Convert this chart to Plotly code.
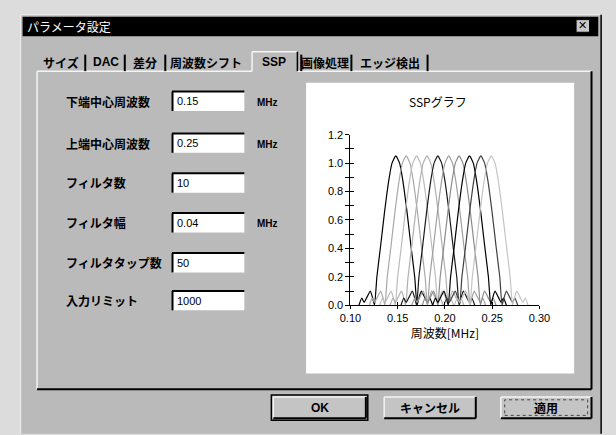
import plotly.graph_objects as go

# ---------------- data ----------------
filter_centers = [0.148, 0.159, 0.170, 0.181, 0.1925, 0.204, 0.215, 0.226, 0.238, 0.249]
filter_colors = ["#000000", "#a8a8a8", "#bcbcbc", "#b0b0b0", "#1a1a1a",
                 "#a0a0a0", "#8c8c8c", "#000000", "#404040", "#c4c4c4"]
# magnitude response shape of one filter (offset from centre in MHz, gain)
profile_offset = [-0.039, -0.036, -0.0335, -0.031, -0.027, -0.0245, -0.0225, -0.020, -0.016,
                  -0.012, -0.0075, -0.004, 0.0, 0.004, 0.0075, 0.012, 0.016, 0.020, 0.0225,
                  0.0245, 0.027, 0.031, 0.0335, 0.036, 0.039]
profile_gain = [0.00, 0.05, 0.02, 0.05, 0.10, 0.05, 0.00, 0.20, 0.42,
                0.65, 0.875, 1.00, 1.05, 1.00, 0.875, 0.65, 0.42, 0.20, 0.00,
                0.05, 0.10, 0.05, 0.02, 0.05, 0.00]
y_ticks = [0.0, 0.2, 0.4, 0.6, 0.8, 1.0, 1.2]
x_ticks = [0.10, 0.15, 0.20, 0.25, 0.30]

tab_labels = ["サイズ", "DAC", "差分", "周波数シフト", "SSP", "画像処理", "エッジ検出"]
param_labels = ["下端中心周波数", "上端中心周波数", "フィルタ数", "フィルタ幅", "フィルタタップ数", "入力リミット"]
param_values = ["0.15", "0.25", "10", "0.04", "50", "1000"]
param_units = ["MHz", "MHz", "", "MHz", "", ""]
button_labels = ["OK", "キャンセル", "適用"]

W, H = 616, 435
def X(px): return px / W
def Y(py): return 1 - py / H

JP = "Noto Sans CJK JP"
SANS = "Liberation Sans"

fig = go.Figure()
for c, col in zip(filter_centers, filter_colors):
    fig.add_trace(go.Scatter(
        x=[c + o for o in profile_offset], y=profile_gain, mode="lines",
        line=dict(color=col, width=1.2, shape="spline", smoothing=0.5),
        showlegend=False, hoverinfo="skip"))
# invisible trace for overlay axes (crossing ticks)
fig.add_trace(go.Scatter(x=[0.1], y=[0], xaxis="x2", yaxis="y2", mode="markers",
                         marker=dict(opacity=0), showlegend=False, hoverinfo="skip"))

xdom = [X(352), X(548)]
ydom = [Y(307.7), Y(132.3)]
axfont = dict(family=SANS, size=11, color="#000")
fig.update_layout(
    width=W, height=H, margin=dict(l=0, r=0, t=0, b=0),
    paper_bgcolor="#dcdcdc", plot_bgcolor="rgba(0,0,0,0)",
    xaxis=dict(domain=xdom, range=[0.10, 0.30], tickvals=x_ticks, tickformat=".2f",
               showgrid=False, zeroline=False, showline=True, linecolor="#000", linewidth=1,
               ticks="outside", ticklen=3, tickcolor="#000", tickfont=axfont,
               title=dict(text="周波数[MHz]", font=dict(family=JP, size=12, color="#000"), standoff=4),
               anchor="y"),
    yaxis=dict(domain=ydom, range=[0, 1.2], tickvals=y_ticks, tickformat=".1f",
               showgrid=False, zeroline=False, showline=True, linecolor="#000", linewidth=1,
               ticks="outside", ticklen=4, tickcolor="#000", tickfont=axfont,
               minor=dict(dtick=0.1, ticks="outside", ticklen=4, tickcolor="#000"),
               anchor="x"),
    xaxis2=dict(domain=xdom, range=[0.10, 0.30], tickvals=x_ticks, overlaying="x", anchor="y",
                showgrid=False, zeroline=False, showline=False, ticks="inside", ticklen=3,
                tickcolor="#000", showticklabels=False),
    yaxis2=dict(domain=ydom, range=[0, 1.2], dtick=0.1, tick0=0, overlaying="y", anchor="x",
                showgrid=False, zeroline=False, showline=False, ticks="inside", ticklen=4,
                tickcolor="#000", showticklabels=False),
)

shapes = []
ann = []
def rect(x0, y0, x1, y1, fill=None, line=None, lw=1, layer="below", dash=None):
    shapes.append(dict(type="rect", xref="paper", yref="paper", x0=X(x0), x1=X(x1),
                       y0=Y(y1), y1=Y(y0), fillcolor=fill or "rgba(0,0,0,0)",
                       line=dict(color=line or "rgba(0,0,0,0)", width=lw if line else 0, dash=dash),
                       layer=layer))
def seg(x0, y0, x1, y1, color, lw=1, layer="below"):
    shapes.append(dict(type="line", xref="paper", yref="paper", x0=X(x0), x1=X(x1),
                       y0=Y(y0), y1=Y(y1), line=dict(color=color, width=lw), layer=layer))
def text(x, y, s, size=12, color="#000", family=JP, xanchor="center", bold=False):
    ann.append(dict(x=X(x), y=Y(y), xref="paper", yref="paper", text=f"<b>{s}</b>" if bold else s,
                    showarrow=False, xanchor=xanchor, yanchor="middle",
                    font=dict(family=family, size=size, color=color)))

# window
rect(10, 9, 612, 440, fill="#bababa")
seg(10, 9, 612, 9, "#efefef"); seg(10, 9, 10, 440, "#efefef")
seg(612, 9, 612, 440, "#000", 1.5)
# title bar
rect(12, 11, 609, 31, fill="#000000")
text(15, 21, "パラメータ設定", size=12, color="#ffffff", xanchor="left")
rect(586, 14, 600, 27, fill="#c8c8c8", line="#000", lw=1)
text(593, 20.5, "✕", size=11, family="DejaVu Sans", bold=True)

# tab panel
seg(27, 67, 250, 67, "#f4f4f4", 1.5); seg(297, 67, 602, 67, "#f4f4f4", 1.5)
seg(27, 67, 27, 394, "#f4f4f4", 1.5)
seg(602, 67, 602, 394, "#000", 2); seg(27, 394, 602, 394, "#000", 2)
# selected tab
seg(250, 47, 297, 47, "#f4f4f4", 1.5); seg(250, 47, 250, 67, "#f4f4f4", 1.5)
seg(297, 47, 297, 67, "#000", 1.5)
tab_x = [52, 98, 139, 202, 273, 326, 393]
for tx, lab in zip(tab_x, tab_labels):
    text(tx, 58, lab, size=12, bold=True,
         family=SANS if lab in ("DAC", "SSP") else JP)
for sx in [77, 118, 160, 301, 353, 432]:
    seg(sx, 50, sx, 67, "#000", 2)

# parameter rows
row_y = [98, 141, 182, 223, 264, 303]
for ry, lab, val, unit in zip(row_y, param_labels, param_values, param_units):
    text(55, ry, lab, size=12, bold=True, xanchor="left")
    rect(167, ry - 10, 242, ry + 10, fill="#ffffff")
    seg(167, ry - 10, 242, ry - 10, "#000", 2)
    seg(167.5, ry - 10, 167.5, ry + 10, "#000", 2)
    text(170, ry, val, size=11, family=SANS, xanchor="left")
    if unit:
        text(253, ry + 1, unit, size=10, family=SANS, xanchor="left", bold=True)

# chart panel
rect(306, 79, 584, 378, fill="#ffffff")
text(443, 98, "SSPグラフ", size=12, family=JP)

# buttons
btn = [(272, 368), (387, 482), (508, 602)]
for (bx0, bx1), lab in zip(btn, button_labels):
    rect(bx0, 402, bx1, 424, fill="#c4c4c4")
    seg(bx0, 402, bx1, 402, "#f4f4f4", 1.5); seg(bx0, 402, bx0, 424, "#f4f4f4", 1.5)
    seg(bx1, 402, bx1, 424, "#000", 2); seg(bx0, 424, bx1, 424, "#000", 2)
    text((bx0 + bx1) / 2, 413, lab, size=12, bold=True, family=SANS if lab == "OK" else JP)
rect(270, 400, 370, 426, line="#000", lw=1.5)
rect(512, 405, 598, 421, line="#444", lw=1, dash="dot")

fig.update_layout(shapes=shapes, annotations=ann)
fig.write_html("out.html", config={"displayModeBar": False},
               post_script="document.body.style.margin='0';document.body.style.overflow='hidden';")
